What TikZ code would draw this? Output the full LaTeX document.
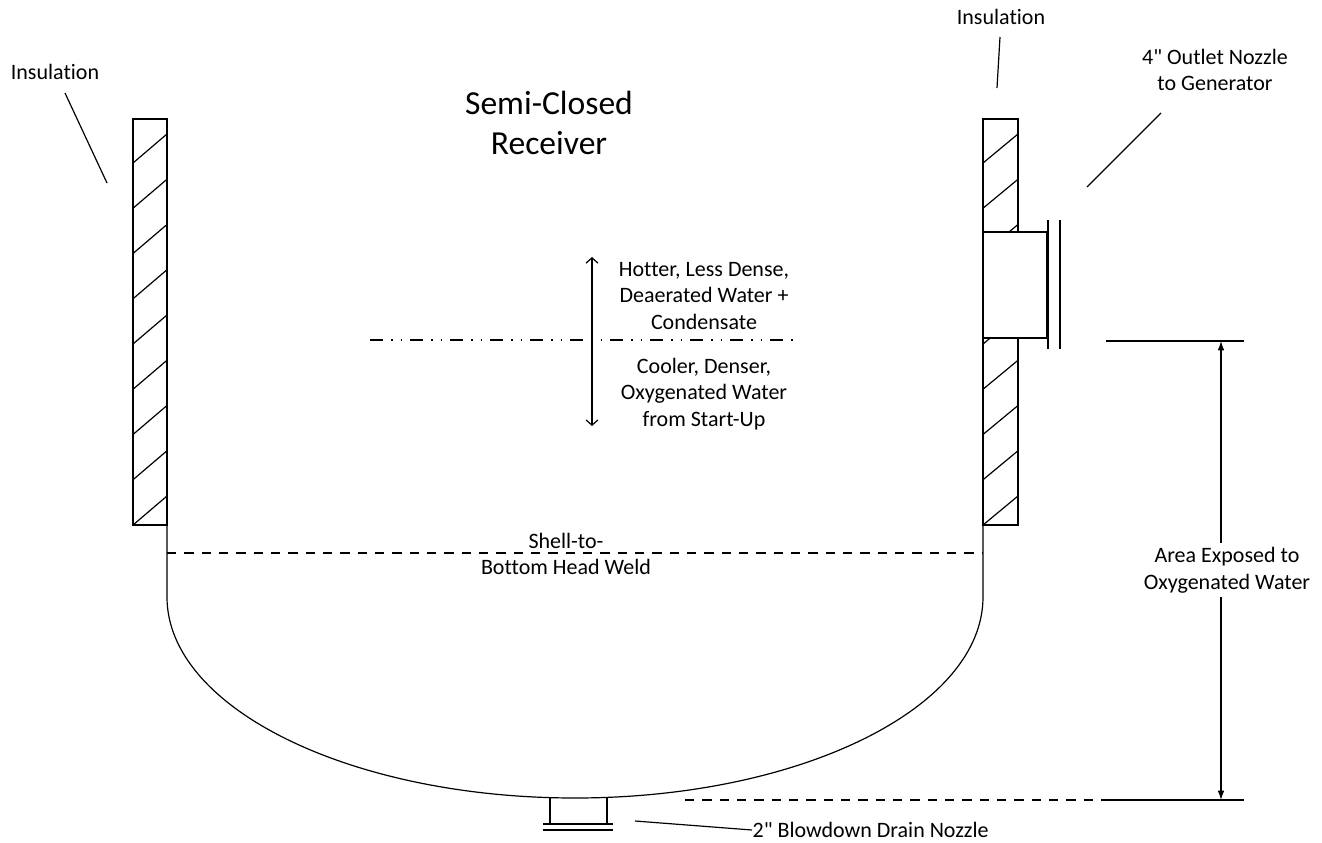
\documentclass[tikz,border=0pt]{standalone}
\usepackage{fontspec}
\setmainfont{Carlito}[Ligatures={TeXOff,NoCommon}]
\usetikzlibrary{arrows.meta}

\tikzset{
  txt/.style={font=\fontsize{16.5}{20}\selectfont, align=center, inner sep=0pt},
  bigtxt/.style={font=\fontsize{25.2}{30.5}\selectfont, align=center, inner sep=0pt},
  weldline/.style={dash pattern=on 7pt off 6pt},
  levelline/.style={dash pattern=on 10pt off 6pt on 1pt off 6pt on 1pt off 6pt},
}

\begin{document}
\begin{tikzpicture}[x=0.75pt, y=-0.75pt, line width=0.9pt]
    \useasboundingbox (0,0) rectangle (1322,843);

    % Insulation on both sides
    \draw (133,119) rectangle (167,525);
    \draw (983,119) rectangle (1018,525);
    \foreach \k in {0,...,8} {
        \draw (133,{525-45.25*\k}) -- (167,{496-45.25*\k});
        \draw (983,{525-45.25*\k}) -- (1018,{496-45.25*\k});
    }

    % Shell and bottom head
    \draw (167,525) -- (167,597)
        .. controls (167,708) and (350,798) .. (575,798)
        .. controls (800,798) and (983,708) .. (983,597) -- (983,525);
    \draw[weldline] (167,553) -- (983,553);

    % Outlet nozzle
    \draw[fill=white] (983,232) rectangle (1047,338);
    \draw[line width=1.6pt] (1048,220) -- (1048,349);
    \draw (1060,220) -- (1060,349);

    % Blowdown drain nozzle
    \draw (550,798) -- (550,824);
    \draw (607,798) -- (607,824);
    \draw (543,824) -- (613,824);
    \draw (543,830) -- (613,830);

    % Water level and flow arrow
    \draw[levelline] (370,340) -- (797,340);
    \coordinate (up) at (592,257);
    \coordinate (down) at (592,426);
    \draw[{Straight Barb[length=4pt,width=9pt]}-{Straight Barb[length=4pt,width=9pt]}] (up) -- (down);

    % Labels
    \node[bigtxt] (title) at (549,123) {Semi-Closed\\Receiver};
    \node[txt] (hotter) at (704,296) {Hotter, Less Dense,\\Deaerated Water +\\Condensate};
    \node[txt] (cooler) at (704,394) {Cooler, Denser,\\Oxygenated Water\\from Start-Up};
    \node[txt] (weld) at (566,554) {Shell-to-\\Bottom Head Weld};
    \node[txt] (insL) at (55,72) {Insulation};
    \node[txt] (insR) at (1001,17) {Insulation};
    \node[txt] (outlet) at (1215,70) {4" Outlet Nozzle\\to Generator};
    \node[txt, anchor=west] (drain) at (752,830) {2" Blowdown Drain Nozzle};

    % Leaders
    \coordinate (insLa) at (65,93);
    \coordinate (insLb) at (107,183);
    \draw (insLa) -- (insLb);
    \coordinate (insRa) at (1000,37);
    \coordinate (insRb) at (997,88);
    \draw (insRa) -- (insRb);
    \coordinate (outa) at (1161,113);
    \coordinate (outb) at (1087,187);
    \draw (outa) -- (outb);
    \coordinate (draina) at (635,821);
    \draw (draina) -- (drain.west);

    % Exposed area dimension
    \coordinate (dtop) at (1221,341);
    \coordinate (dbot) at (1221,800);
    \draw (1106,341) -- (1244,341);
    \draw (1107,800) -- (1244,800);
    \draw[weldline] (685,800) -- (1107,800);
    \draw[{Latex[length=7pt,width=5pt]}-{Latex[length=7pt,width=5pt]}] (dtop) -- (dbot);
    \node[txt, fill=white, inner sep=3pt] (area) at (1227,570) {Area Exposed to\\Oxygenated Water};
\end{tikzpicture}
\end{document}
